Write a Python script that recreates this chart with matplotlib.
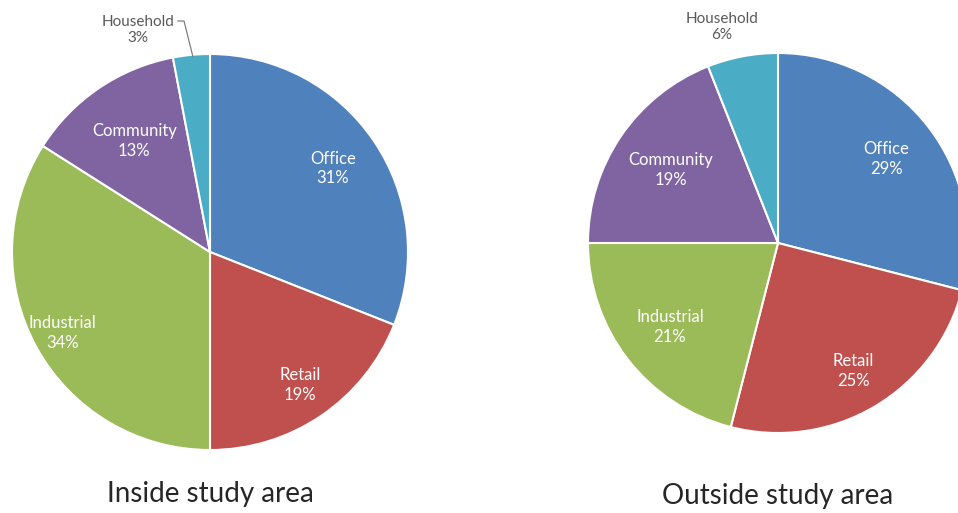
import numpy as np
import matplotlib.pyplot as plt

# data
categories = ["Office", "Retail", "Industrial", "Community", "Household"]
inside_pct = [31, 19, 34, 13, 3]
outside_pct = [29, 25, 21, 19, 6]
titles = ["Inside study area", "Outside study area"]
colors = ["#4F81BD", "#C0504D", "#9BBB59", "#8064A2", "#4BACC6"]

W, H = 958, 513
fig = plt.figure(figsize=(W / 100, H / 100), dpi=100)
ax = fig.add_axes([0, 0, 1, 1])

FONT = ["Lato", "DejaVu Sans"]


def draw_pie(values, cx, cy, r, dists, title, title_y, hh_text, hh_line):
    wedges, _ = ax.pie(values, colors=colors, startangle=90, counterclock=False,
                       center=(cx, cy), radius=r,
                       wedgeprops=dict(edgecolor="white", linewidth=1.5))
    for i, w in enumerate(wedges):
        if categories[i] == "Household":
            continue
        th = np.deg2rad((w.theta1 + w.theta2) / 2)
        d = dists[i] * r
        ax.text(cx + d * np.cos(th), cy + d * np.sin(th),
                "%s\n%d%%" % (categories[i], values[i]),
                ha="center", va="center", color="white", fontsize=12,
                linespacing=1.3, family=FONT)
    # household label sits outside the pie
    hx, hy = hh_text
    ax.text(hx, hy, "Household\n%d%%" % values[4], ha="center", va="center",
            color="#595959", fontsize=11, linespacing=1.25, family=FONT)
    if hh_line is not None:
        ax.plot(hh_line[0], hh_line[1], color="#7f7f7f", lw=0.9)
    ax.text(cx, H - title_y, title, ha="center", va="center", color="#262626",
            fontsize=20, family=FONT)


draw_pie(inside_pct, 210, H - 252, 198, [0.75, 0.81, 0.85, 0.68, 0],
         titles[0], 494, (138, H - 30), ([178, 184, 193], [H - 21, H - 21, H - 57]))
draw_pie(outside_pct, 778, H - 243, 190, [0.72, 0.78, 0.72, 0.68, 0],
         titles[1], 496, (722, H - 27), None)

ax.set_xlim(0, W)
ax.set_ylim(0, H)
ax.set_aspect("equal")
ax.axis("off")

fig.savefig("out.png", dpi=100, facecolor="white")
